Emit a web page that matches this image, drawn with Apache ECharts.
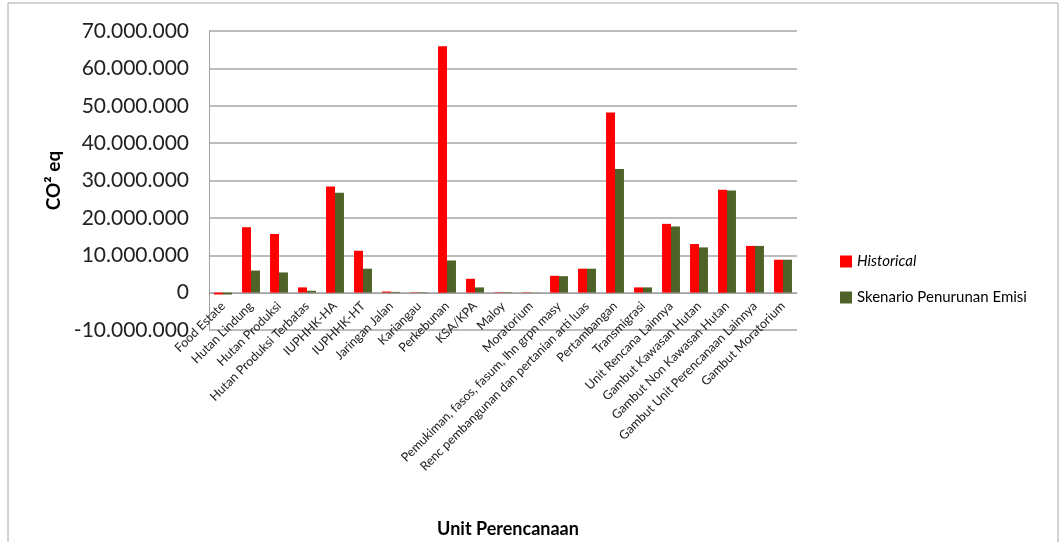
<!DOCTYPE html>
<html>
<head>
<meta charset="utf-8">
<script src="https://cdn.jsdelivr.net/npm/echarts@6/dist/echarts.min.js"></script>
<style>
  html, body { margin: 0; padding: 0; background: #fff; }
  #chart { width: 1063px; height: 542px; }
</style>
</head>
<body>
<div id="chart"></div>
<script>
const categories = [
  'Food Estate', 'Hutan Lindung', 'Hutan Produksi', 'Hutan Produksi Terbatas',
  'IUPHHK-HA', 'IUPHHK-HT', 'Jaringan Jalan', 'Kariangau', 'Perkebunan',
  'KSA/KPA', 'Maloy', 'Moratorium', 'Pemukiman, fasos, fasum, lhn grpn masy',
  'Renc pembangunan dan pertanian arti luas', 'Pertambangan', 'Transmigrasi',
  'Unit Rencana Lainnya', 'Gambut Kawasan Hutan', 'Gambut Non Kawasan Hutan',
  'Gambut Unit Perencanaan Lainnya', 'Gambut Moratorium'
];

const historical = [
  -500000, 17500000, 15700000, 1400000, 28400000, 11200000, 300000, 100000,
  65900000, 3700000, 100000, 100000, 4500000, 6400000, 48200000, 1400000,
  18400000, 13000000, 27500000, 12500000, 8800000
];

const skenario = [
  -500000, 5900000, 5400000, 500000, 26700000, 6400000, 200000, 100000,
  8600000, 1400000, 100000, 50000, 4400000, 6400000, 33100000, 1400000,
  17700000, 12100000, 27300000, 12500000, 8800000
];

const chart = echarts.init(document.getElementById('chart'));

function fmt(v) {
  if (v === 0) return '0';
  const s = Math.abs(v).toString().replace(/\B(?=(\d{3})+(?!\d))/g, '.');
  return (v < 0 ? '-' : '') + s;
}

const option = {
  animation: false,
  textStyle: { fontFamily: 'Lato' },
  title: {
    text: 'Unit Perencanaan',
    left: 503,
    top: 515,
    textAlign: 'center',
    textStyle: { fontSize: 18, fontWeight: 'bold', color: '#000', fontFamily: 'Lato' }
  },
  graphic: [{
    type: 'rect',
    shape: { x: 8, y: 3, width: 1050, height: 560 },
    style: { fill: 'none', stroke: '#a6a6a6', lineWidth: 1 },
    silent: true
  }],
  legend: {
    orient: 'vertical',
    left: 835,
    top: 249,
    itemWidth: 12,
    itemHeight: 12,
    itemGap: 21,
    icon: 'rect',
    textStyle: {
      fontSize: 15, color: '#000', fontFamily: 'Lato',
      rich: { i: { fontStyle: 'italic', fontSize: 15, fontFamily: 'Lato' } }
    },
    formatter: function (name) {
      return name === 'Historical' ? '{i|' + name + '}' : name;
    },
    data: ['Historical', 'Skenario Penurunan Emisi']
  },
  grid: { left: 209, right: 266, top: 31, bottom: 212, containLabel: false },
  xAxis: {
    type: 'category',
    data: categories,
    offset: -37,
    axisLine: { onZero: false, lineStyle: { color: '#a0a0a0', width: 1 } },
    axisTick: { show: false },
    axisLabel: {
      interval: 0,
      rotate: 45,
      fontSize: 12.5,
      color: '#222',
      margin: 11,
      fontFamily: 'Lato'
    }
  },
  yAxis: {
    type: 'value',
    min: -10000000,
    max: 70000000,
    interval: 10000000,
    name: 'CO² eq',
    nameLocation: 'middle',
    nameGap: 145,
    nameTextStyle: { fontSize: 19, fontWeight: 'bold', color: '#000', fontFamily: 'Lato' },
    axisLine: { show: true, lineStyle: { color: '#a0a0a0' } },
    axisTick: { show: false },
    axisLabel: { fontSize: 21, color: '#222', margin: 20, formatter: fmt, fontFamily: 'Lato' },
    splitLine: { lineStyle: { color: '#a6a6a6', width: 1.5 } }
  },
  series: [
    {
      name: 'Historical',
      type: 'bar',
      data: historical,
      itemStyle: { color: '#ff0000' },
      barGap: '0%',
      barCategoryGap: '36%'
    },
    {
      name: 'Skenario Penurunan Emisi',
      type: 'bar',
      data: skenario,
      itemStyle: { color: '#4f6228' }
    }
  ]
};

chart.setOption(option);
</script>
</body>
</html>
